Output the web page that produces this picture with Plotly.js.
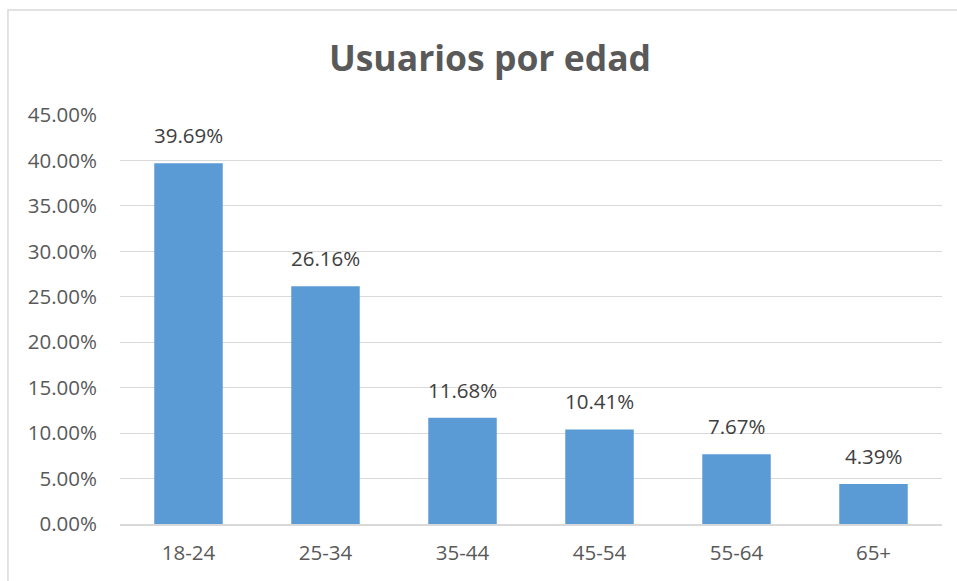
<!DOCTYPE html>
<html>
<head>
<meta charset="utf-8">
<script src="https://cdn.plot.ly/plotly-3.0.1.min.js"></script>
<style>html,body{margin:0;padding:0;background:#fff;}#chart{width:957px;height:581px;}</style>
</head>
<body>
<div id="chart"></div>
<script>
const categories = ["18-24", "25-34", "35-44", "45-54", "55-64", "65+"];
const values = [39.69, 26.16, 11.68, 10.41, 7.67, 4.39];
const labels = ["39.69%", "26.16%", "11.68%", "10.41%", "7.67%", "4.39%"];
const tickVals = [0, 5, 10, 15, 20, 25, 30, 35, 40, 45];
const tickText = ["0.00%", "5.00%", "10.00%", "15.00%", "20.00%", "25.00%", "30.00%", "35.00%", "40.00%", "45.00%"];

const trace = {
  type: "bar",
  x: categories,
  y: values,
  marker: {color: "#5b9bd5", line: {width: 0}},
  hoverinfo: "skip"
};

const annotations = categories.map((c, i) => ({
  x: c, y: values[i], xref: "x", yref: "y",
  text: labels[i], showarrow: false,
  yanchor: "bottom", yshift: 12,
  font: {family: "Open Sans, sans-serif", size: 20.5, color: "#404040"}
}));

const layout = {
  width: 957, height: 581,
  margin: {l: 120, r: 15, t: 115, b: 57},
  paper_bgcolor: "#ffffff", plot_bgcolor: "#ffffff",
  bargap: 0.5,
  showlegend: false,
  title: {
    text: "<b>Usuarios por edad</b>",
    x: 0.512, xanchor: "center", y: 0.098, yref: "container", yanchor: "middle",
    font: {family: "Open Sans, sans-serif", size: 35.5, color: "#595959"}
  },
  xaxis: {
    showgrid: false, showline: true, linecolor: "#d9d9d9", linewidth: 1.5,
    ticks: "", tickfont: {family: "Open Sans, sans-serif", size: 20.5, color: "#595959"},
    ticklabelstandoff: 10
  },
  yaxis: {
    range: [0, 45], tickvals: tickVals, ticktext: tickText,
    showgrid: true, gridcolor: "#d9d9d9", gridwidth: 1, zeroline: false,
    showline: false, ticks: "",
    tickfont: {family: "Open Sans, sans-serif", size: 20.5, color: "#595959"},
    ticklabelstandoff: 22
  },
  annotations: annotations,
  shapes: [{
    type: "rect", xref: "paper", yref: "paper",
    x0: -0.1363, x1: 1.05, y0: -0.2, y1: 1.2567,
    line: {color: "#d9d9d9", width: 1.5}, fillcolor: "rgba(0,0,0,0)", layer: "below"
  }]
};
layout.title.y = 0.9;

Plotly.newPlot("chart", [trace], layout, {displayModeBar: false, staticPlot: true});
</script>
</body>
</html>
